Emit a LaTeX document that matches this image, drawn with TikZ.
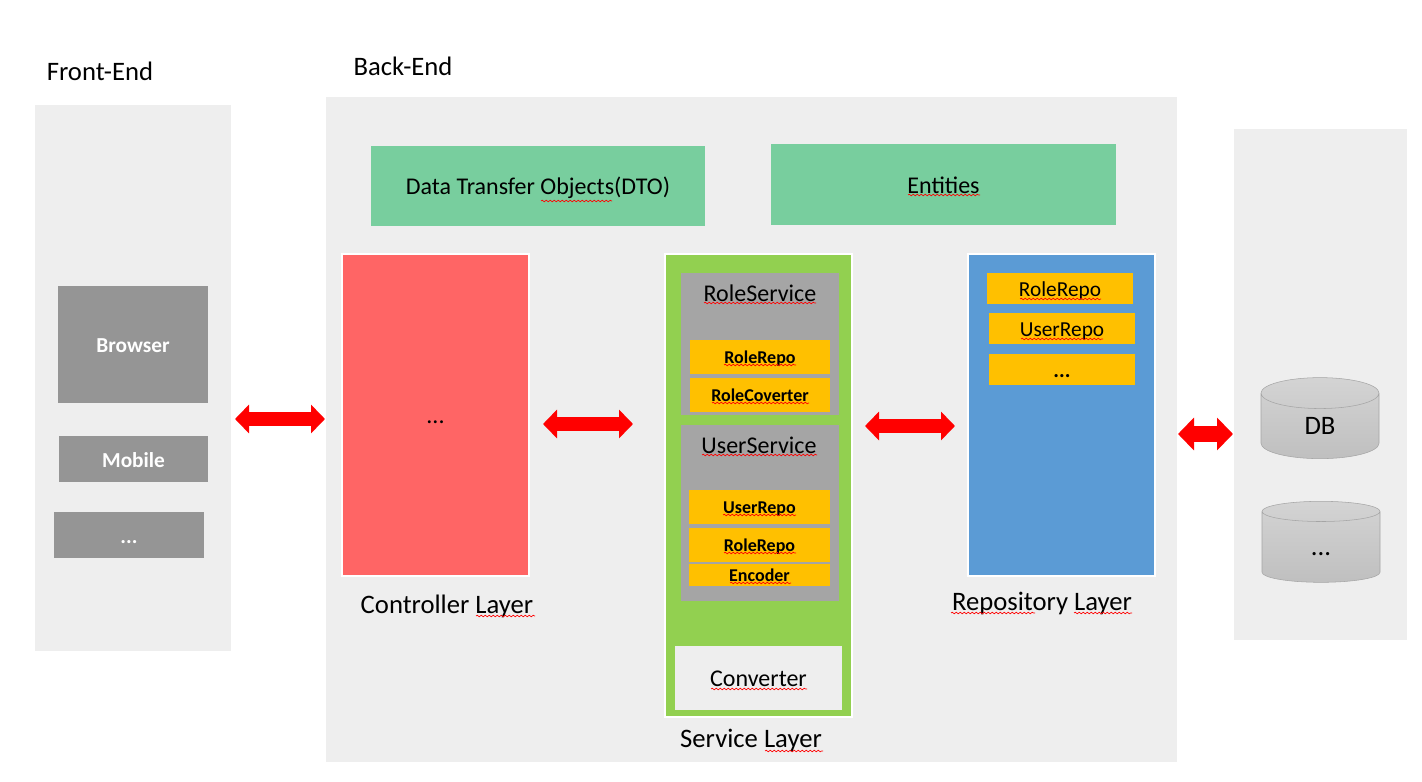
\documentclass[tikz,border=0pt]{standalone}
\usepackage{fontspec}
\setmainfont{Carlito}
\usetikzlibrary{arrows.meta,shapes.geometric,decorations.pathmorphing}
\definecolor{panelgray}{HTML}{EEEEEE}
\definecolor{mintgreen}{HTML}{78CE9E}
\definecolor{ctrlred}{HTML}{FF6565}
\definecolor{svcgreen}{HTML}{92D050}
\definecolor{repoblue}{HTML}{5B9BD5}
\definecolor{midgray}{HTML}{A5A5A5}
\definecolor{darkgray}{HTML}{959595}
\definecolor{amber}{HTML}{FFC000}
\tikzset{
  every node/.style={text height=13pt,text depth=0pt},
  pane/.style 2 args={rectangle,inner sep=0pt,outer sep=0pt,minimum width=#1*0.75pt,minimum height=#2*0.75pt},
  caption/.style={inner sep=0pt,font=\fontsize{20}{22}\selectfont},
  subtitle/.style={inner sep=0pt,font=\fontsize{18}{20}\selectfont},
  client/.style 2 args={pane={#1}{#2},fill=darkgray,text=white,text height=12pt,font=\fontsize{16}{18}\selectfont\bfseries},
  layer/.style 2 args={pane={#1}{#2},draw=white,line width=1.5pt},
  item/.style 2 args={pane={#1}{#2},fill=amber,text height=9pt,font=\fontsize{13.5}{15}\selectfont\bfseries},
  repoitem/.style={pane={146}{31},fill=amber,text height=12pt,font=\fontsize{16}{18}\selectfont},
  store/.style={cylinder,shape border rotate=90,aspect=1.0,draw=midgray,inner sep=0pt,outer sep=0pt,
    minimum width=118*0.75pt,minimum height=81*0.75pt,top color=black!17,bottom color=black!25,
    font=\fontsize{20}{22}\selectfont},
  bigarrow/.style={{Triangle[length=10.5pt,width=21pt]}-{Triangle[length=10.5pt,width=21pt]},draw=red,line width=10.5pt},
  squig/.style={draw=red,line width=0.5pt,decorate,decoration={snake,amplitude=0.6pt,segment length=3pt}},
}
\begin{document}
\begin{tikzpicture}[x=0.75pt,y=-0.75pt]
\useasboundingbox (0,0) rectangle (1422,782);
% panels
\node[pane={196}{546},fill=panelgray] (frontpanel) at (133,378) {};
\node[pane={851}{665},fill=panelgray] (backpanel) at (751.5,429.5) {};
\node[pane={173}{511},fill=panelgray] (dbpanel) at (1320.5,384.5) {};
\node[caption] (fronttitle) at (100,72) {Front-End};
\node[caption] (backtitle) at (403,67) {Back-End};
% front end
\node[client={150}{117}] (browser) at (133,344.5) {Browser};
\node[client={149}{46}] (mobile) at (133.5,459) {Mobile};
\node[client={150}{46}] (otherclient) at (129,535) {...};
% shared objects
\node[pane={334}{80},fill=mintgreen,font=\fontsize{18}{20}\selectfont] (dto) at (538,186) {Data Transfer Objects(DTO)};
\node[pane={345}{81},fill=mintgreen,font=\fontsize{18}{20}\selectfont] (entities) at (943.5,184.5) {Entities};
% controller layer
\node[layer={187}{322},fill=ctrlred,font=\fontsize{18}{20}\selectfont] (controller) at (435.5,415) {...};
\node[caption] (controllertitle) at (447,605) {Controller Layer};
% service layer
\node[layer={187}{463},fill=svcgreen] (service) at (758.5,485.5) {};
\node[pane={158}{142},fill=midgray] (roleservice) at (760,344) {};
\node[subtitle] (roletitle) at (760,293) {RoleService};
\node[item={140}{34}] (rolerepo) at (760,357) {RoleRepo};
\node[item={140}{34}] (rolecov) at (760,395) {RoleCoverter};
\node[pane={158}{176},fill=midgray] (userservice) at (760,513) {};
\node[subtitle] (usertitle) at (759,445) {UserService};
\node[item={141}{34}] (userrepo) at (759.5,507) {UserRepo};
\node[item={141}{34}] (rolerepob) at (759.5,545) {RoleRepo};
\node[item={141}{22}] (encoder) at (759.5,575) {Encoder};
\node[pane={167}{64},fill=panelgray,font=\fontsize{18}{20}\selectfont] (converter) at (758.5,678) {Converter};
\node[caption] (servicetitle) at (751,739) {Service Layer};
% repository layer
\node[layer={187}{322},fill=repoblue] (repository) at (1061.5,415) {};
\node[repoitem] (reporole) at (1060,288.5) {RoleRepo};
\node[repoitem] (repouser) at (1062,328.5) {UserRepo};
\node[repoitem,font=\fontsize{16}{18}\selectfont\bfseries] (repoother) at (1062,369.5) {...};
\node[caption] (repositorytitle) at (1042,602) {Repository Layer};
% storage
\node[store] (db) at (1320,426) {DB};
\node[store] (otherdb) at (1321,547) {...};
% arrows
\coordinate (rowa) at (0,419);
\coordinate (rowb) at (0,424);
\coordinate (rowc) at (0,426);
\coordinate (rowd) at (0,434);
\draw[bigarrow,shorten <=3pt,shorten >=0.75pt] (frontpanel.east |- rowa) -- (backpanel.west |- rowa);
\draw[bigarrow,shorten <=10.5pt,shorten >=24pt] (controller.east |- rowb) -- (service.west |- rowb);
\draw[bigarrow,shorten <=9.75pt,shorten >=9.75pt] (service.east |- rowc) -- (repository.west |- rowc);
\draw[bigarrow,{Triangle[length=12pt,width=24pt]}-{Triangle[length=12pt,width=24pt]},line width=11.5pt,shorten <=0.75pt,shorten >=0.75pt] (backpanel.east |- rowd) -- (dbpanel.west |- rowd);
% spell-check marks
\draw[squig] (541,201) -- (612,201);
\draw[squig] (908,195) -- (980,195);
\draw[squig] (476,616) -- (535,616);
\draw[squig] (704,303) -- (816,303);
\draw[squig] (724,365) -- (796,365);
\draw[squig] (712,403) -- (809,403);
\draw[squig] (702,455) -- (817,455);
\draw[squig] (723,515) -- (796,515);
\draw[squig] (724,553) -- (796,553);
\draw[squig] (730,583) -- (791,583);
\draw[squig] (711,689) -- (807,689);
\draw[squig] (765,751) -- (823,751);
\draw[squig] (951,613) -- (1035,613);
\draw[squig] (1074,613) -- (1132,613);
\draw[squig] (1020,299) -- (1101,299);
\draw[squig] (1021,339) -- (1103,339);
\end{tikzpicture}
\end{document}
